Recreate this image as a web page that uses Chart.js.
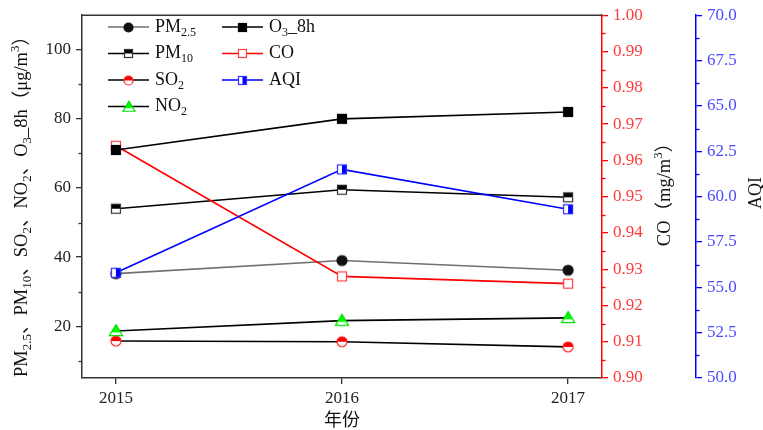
<!DOCTYPE html>
<html>
<head>
<meta charset="utf-8">
<script src="https://cdn.jsdelivr.net/npm/chart.js@4/dist/chart.umd.min.js"></script>
<style>
    body { margin: 0; background: #fff; }
    #wrap { width: 763px; height: 430px; }
</style>
</head>
<body>
<div id="wrap"><canvas id="chart" width="763" height="430"></canvas></div>
<script>
// values
const years = [2015, 2016, 2017];
const pm25 = [35.2, 39.0, 36.2];
const pm10 = [54.0, 59.5, 57.3];
const so2 = [15.7, 15.5, 14.0];
const no2 = [18.6, 21.6, 22.4];
const o3 = [71.0, 80.0, 82.0];
const co = [0.964, 0.928, 0.926];
const aqi = [55.8, 61.5, 59.3];

const leftTicks = [20, 40, 60, 80, 100];
const leftMinor = [10, 30, 50, 70, 90];
const coTicks = [0.90, 0.91, 0.92, 0.93, 0.94, 0.95, 0.96, 0.97, 0.98, 0.99, 1.00];
const aqiTicks = [50, 52.5, 55, 57.5, 60, 62.5, 65, 67.5, 70];

const SERIF = "'Liberation Serif', 'Noto Sans CJK SC', serif";
const RED_TXT = '#ff3b3b';
const BLUE_TXT = '#4b4bff';

// build a marker image: kind is the shape, s its size
function marker(kind, s, stroke, fill) {
    const size = Math.ceil(s * 1.4) + 4;
    const c = document.createElement('canvas');
    c.width = c.height = size;
    const g = c.getContext('2d');
    const m = size / 2, r = s / 2;
    g.lineWidth = 1.2;
    g.strokeStyle = stroke;
    g.fillStyle = '#fff';
    if (kind === 'circle' || kind === 'circleHalf') {
        g.beginPath(); g.arc(m, m, r, 0, Math.PI * 2); g.fill();
        g.fillStyle = fill;
        g.beginPath();
        if (kind === 'circle') g.arc(m, m, r, 0, Math.PI * 2);
        else { g.arc(m, m, r, Math.PI, 0); g.closePath(); }
        g.fill();
        g.beginPath(); g.arc(m, m, r, 0, Math.PI * 2); g.stroke();
    } else if (kind === 'triHalf') {
        const path = () => {
            g.beginPath();
            g.moveTo(m, m - r * 1.15);
            g.lineTo(m + r * 1.2, m + r * 0.85);
            g.lineTo(m - r * 1.2, m + r * 0.85);
            g.closePath();
        };
        path(); g.fill();
        g.save(); path(); g.clip();
        g.fillStyle = fill;
        g.fillRect(0, 0, size, m + r * 0.25);
        g.restore();
        path(); g.stroke();
    } else {
        g.fillRect(m - r, m - r, s, s);
        g.fillStyle = fill;
        if (kind === 'square') g.fillRect(m - r, m - r, s, s);
        if (kind === 'squareTop') g.fillRect(m - r, m - r, s, s / 2);
        if (kind === 'squareRight') g.fillRect(m, m - r, r, s);
        g.strokeRect(m - r + 0.5, m - r + 0.5, s - 1, s - 1);
    }
    return c;
}

const series = [
    { key: 'pm25', data: pm25, axis: 'y', line: '#707070', kind: 'circle', stroke: '#111', fill: '#111', order: 6,
      label: [['PM', 'n'], ['2.5', 'sub']] },
    { key: 'pm10', data: pm10, axis: 'y', line: '#000', kind: 'squareTop', stroke: '#333', fill: '#000', order: 5,
      label: [['PM', 'n'], ['10', 'sub']] },
    { key: 'so2', data: so2, axis: 'y', line: '#000', kind: 'circleHalf', stroke: '#ff2020', fill: '#ff0000', order: 4,
      label: [['SO', 'n'], ['2', 'sub']] },
    { key: 'no2', data: no2, axis: 'y', line: '#000', kind: 'triHalf', stroke: '#00e000', fill: '#00ff00', order: 3,
      label: [['NO', 'n'], ['2', 'sub']] },
    { key: 'o3', data: o3, axis: 'y', line: '#000', kind: 'square', stroke: '#000', fill: '#000', order: 1,
      label: [['O', 'n'], ['3', 'sub'], ['_8h', 'n']] },
    { key: 'co', data: co, axis: 'y1', line: '#ff0000', kind: 'squareHollow', stroke: '#ff4040', fill: '#fff', order: 2,
      label: [['CO', 'n']] },
    { key: 'aqi', data: aqi, axis: 'y2', line: '#0000ff', kind: 'squareRight', stroke: '#3030ff', fill: '#0000ff', order: 0,
      label: [['AQI', 'n']] }
];

const datasets = series.map(s => ({
    label: s.key,
    data: years.map((x, i) => ({ x: x, y: s.data[i] })),
    yAxisID: s.axis,
    borderColor: s.line,
    borderWidth: 1.6,
    tension: 0,
    fill: false,
    order: s.order,
    pointStyle: marker(s.kind, s.kind === 'triHalf' ? 11 : 10, s.stroke, s.fill),
    pointRadius: 5
}));

// text with sub/superscripts, drawn from x on a middle baseline
function richWidth(ctx, segs, size) {
    let w = 0;
    segs.forEach(([t, k]) => {
        ctx.font = (k === 'n' ? size : Math.round(size * 0.68)) + 'px ' + SERIF;
        w += ctx.measureText(t).width;
    });
    return w;
}

function drawRich(ctx, segs, x, y, size, color) {
    ctx.fillStyle = color;
    ctx.textBaseline = 'middle';
    ctx.textAlign = 'left';
    segs.forEach(([t, k]) => {
        const small = Math.round(size * 0.68);
        ctx.font = (k === 'n' ? size : small) + 'px ' + SERIF;
        let dy = 0;
        if (k === 'sub') dy = size * 0.3;
        if (k === 'sup') dy = -size * 0.35;
        ctx.fillText(t, x, y + dy);
        x += ctx.measureText(t).width;
    });
}

function drawRotated(ctx, segs, cx, cy, size, color) {
    ctx.save();
    ctx.translate(cx, cy);
    ctx.rotate(-Math.PI / 2);
    const w = richWidth(ctx, segs, size);
    drawRich(ctx, segs, -w / 2, 0, size, color);
    ctx.restore();
}

const decorPlugin = {
    id: 'decor',
    afterDraw(chart) {
        const ctx = chart.ctx;
        const area = chart.chartArea;
        const sy = chart.scales.y, sy1 = chart.scales.y1, sy2 = chart.scales.y2;

        // top frame
        ctx.save();
        ctx.strokeStyle = '#333';
        ctx.lineWidth = 1.5;
        ctx.beginPath();
        ctx.moveTo(area.left, area.top);
        ctx.lineTo(area.right, area.top);
        ctx.stroke();

        // minor ticks
        const minor = (scale, values, x, dir, color) => {
            ctx.strokeStyle = color;
            ctx.lineWidth = 1.3;
            values.forEach(v => {
                const py = Math.round(scale.getPixelForValue(v)) + 0.5;
                ctx.beginPath();
                ctx.moveTo(x, py);
                ctx.lineTo(x + dir * 3.5, py);
                ctx.stroke();
            });
        };
        minor(sy, leftMinor, area.left, -1, '#333');
        minor(sy1, coTicks.slice(1).map(v => v - 0.005), sy1.left, 1, '#ff0000');
        minor(sy2, aqiTicks.slice(1).map(v => v - 1.25), sy2.left, 1, '#0000ff');

        // axis titles
        drawRotated(ctx, [['PM', 'n'], ['2.5', 'sub'], ['、PM', 'n'], ['10', 'sub'], ['、SO', 'n'], ['2', 'sub'],
            ['、NO', 'n'], ['2', 'sub'], ['、O', 'n'], ['3', 'sub'], ['_8h（μg/m', 'n'], ['3', 'sup'], ['）', 'n']],
            22, 202, 18.5, '#111');
        drawRotated(ctx, [['CO（mg/m', 'n'], ['3', 'sup'], ['）', 'n']], 665, 190, 18.5, '#111');
        drawRotated(ctx, [['AQI', 'n']], 756, 193, 18, '#111');
        ctx.font = "18px 'Noto Sans CJK SC', sans-serif";
        ctx.fillStyle = '#111';
        ctx.textAlign = 'center';
        ctx.textBaseline = 'middle';
        ctx.fillText('年份', (chart.scales.x.getPixelForValue(2016)), 419);

        // legend
        const rowsY = [27, 53.5, 80, 106.5];
        series.forEach((s, i) => {
            const col = i < 4 ? 0 : 1;
            const y = rowsY[col === 0 ? i : i - 4];
            const x0 = col === 0 ? 108 : 222;
            ctx.strokeStyle = s.line;
            ctx.lineWidth = 1.6;
            ctx.beginPath();
            ctx.moveTo(x0, y);
            ctx.lineTo(x0 + 41, y);
            ctx.stroke();
            const img = marker(s.kind, s.kind === 'triHalf' ? 10 : 9, s.stroke, s.fill);
            ctx.drawImage(img, Math.round(x0 + 20.5 - img.width / 2), Math.round(y - img.height / 2));
            drawRich(ctx, s.label, x0 + 47, y, 18, '#111');
        });
        ctx.restore();
    }
};

const tickFont = { family: SERIF, size: 17 };

new Chart(document.getElementById('chart'), {
    type: 'line',
    data: { datasets: datasets },
    options: {
        responsive: false,
        animation: false,
        layout: { padding: { top: 15, bottom: 0, left: 0, right: 0 } },
        plugins: {
            legend: { display: false },
            tooltip: { enabled: false }
        },
        scales: {
            x: {
                type: 'linear',
                position: 'bottom',
                min: 2014.85,
                max: 2017.15,
                afterBuildTicks: scale => { scale.ticks = years.map(v => ({ value: v })); },
                afterFit: scale => { scale.height = 52; },
                ticks: { font: tickFont, color: '#222', padding: 4, callback: v => String(v) },
                grid: { drawOnChartArea: false, drawTicks: true, tickLength: 6, color: '#333', lineWidth: 1.3 },
                border: { color: '#333', width: 1.5 }
            },
            y: {
                type: 'linear',
                position: 'left',
                min: 5,
                max: 110,
                afterBuildTicks: scale => { scale.ticks = leftTicks.map(v => ({ value: v })); },
                afterFit: scale => { scale.width = 82; },
                ticks: { font: tickFont, color: '#222', padding: 5 },
                grid: { drawOnChartArea: false, drawTicks: true, tickLength: 6, color: '#333', lineWidth: 1.3 },
                border: { color: '#333', width: 1.5 }
            },
            y1: {
                type: 'linear',
                position: 'right',
                weight: 0,
                min: 0.9,
                max: 1.0,
                afterBuildTicks: scale => { scale.ticks = coTicks.map(v => ({ value: v })); },
                afterFit: scale => { scale.width = 94; },
                ticks: { font: tickFont, color: RED_TXT, padding: 5, callback: v => v.toFixed(2) },
                grid: { drawOnChartArea: false, drawTicks: true, tickLength: 6, color: '#ff0000', lineWidth: 1.3 },
                border: { color: '#ff0000', width: 1.5 }
            },
            y2: {
                type: 'linear',
                position: 'right',
                weight: 1,
                min: 50,
                max: 70,
                afterBuildTicks: scale => { scale.ticks = aqiTicks.map(v => ({ value: v })); },
                afterFit: scale => { scale.width = 67; },
                ticks: { font: tickFont, color: BLUE_TXT, padding: 5, callback: v => v.toFixed(1) },
                grid: { drawOnChartArea: false, drawTicks: true, tickLength: 6, color: '#0000ff', lineWidth: 1.3 },
                border: { color: '#0000ff', width: 1.5 }
            }
        }
    },
    plugins: [decorPlugin]
});
</script>
</body>
</html>
